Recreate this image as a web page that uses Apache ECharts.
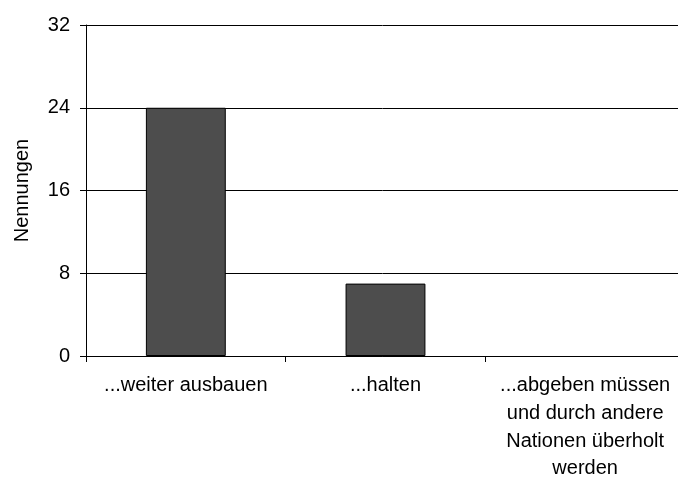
<!DOCTYPE html>
<html><head><meta charset="utf-8">
<script src="https://cdn.jsdelivr.net/npm/echarts@6/dist/echarts.min.js"></script>
<style>html,body{margin:0;padding:0;background:#fff}#c{width:678px;height:477px}</style>
</head><body><div id="c"></div>
<script>
const categories = ["...weiter ausbauen", "...halten", "...abgeben müssen\nund durch andere\nNationen überholt\nwerden"];
const values = [24, 7, 0];
const yTicks = [0, 8, 16, 24, 32];
const yAxisTitle = "Nennungen";

const chart = echarts.init(document.getElementById('c'), null, {renderer: 'canvas'});
const font = '"Liberation Sans", Arial, sans-serif';
chart.setOption({
  animation: false,
  backgroundColor: '#ffffff',
  grid: {left: 86, right: -7, top: 25, bottom: 121, containLabel: false, outerBoundsMode: 'none'},
  xAxis: {
    type: 'category',
    data: categories,
    boundaryGap: true,
    axisLine: {lineStyle: {color: '#000', width: 1}},
    axisTick: {show: true, alignWithLabel: false, length: 6, lineStyle: {color: '#000'}},
    axisLabel: {color: '#000', fontFamily: font, fontSize: 20, lineHeight: 27.7, margin: 16, interval: 0}
  },
  yAxis: {
    type: 'value',
    min: 0, max: 32, interval: 8,
    name: yAxisTitle,
    nameLocation: 'middle',
    nameGap: 54,
    nameRotate: 90,
    nameTextStyle: {color: '#000', fontFamily: font, fontSize: 20},
    axisLine: {show: true, lineStyle: {color: '#000', width: 1}},
    axisTick: {show: true, length: 6, lineStyle: {color: '#000'}},
    axisLabel: {color: '#000', fontFamily: font, fontSize: 20, margin: 16,
      formatter: v => yTicks.includes(v) ? String(v) : ''},
    splitLine: {show: true, lineStyle: {color: '#000', width: 1}}
  },
  series: [{
    type: 'bar',
    data: values.map(v => ({value: v, itemStyle: v === 0 ? {borderWidth: 0, opacity: 0} : {}})),
    barWidth: '40%',
    itemStyle: {color: '#4d4d4d', borderColor: '#000', borderWidth: 1}
  }]
});
</script></body></html>
